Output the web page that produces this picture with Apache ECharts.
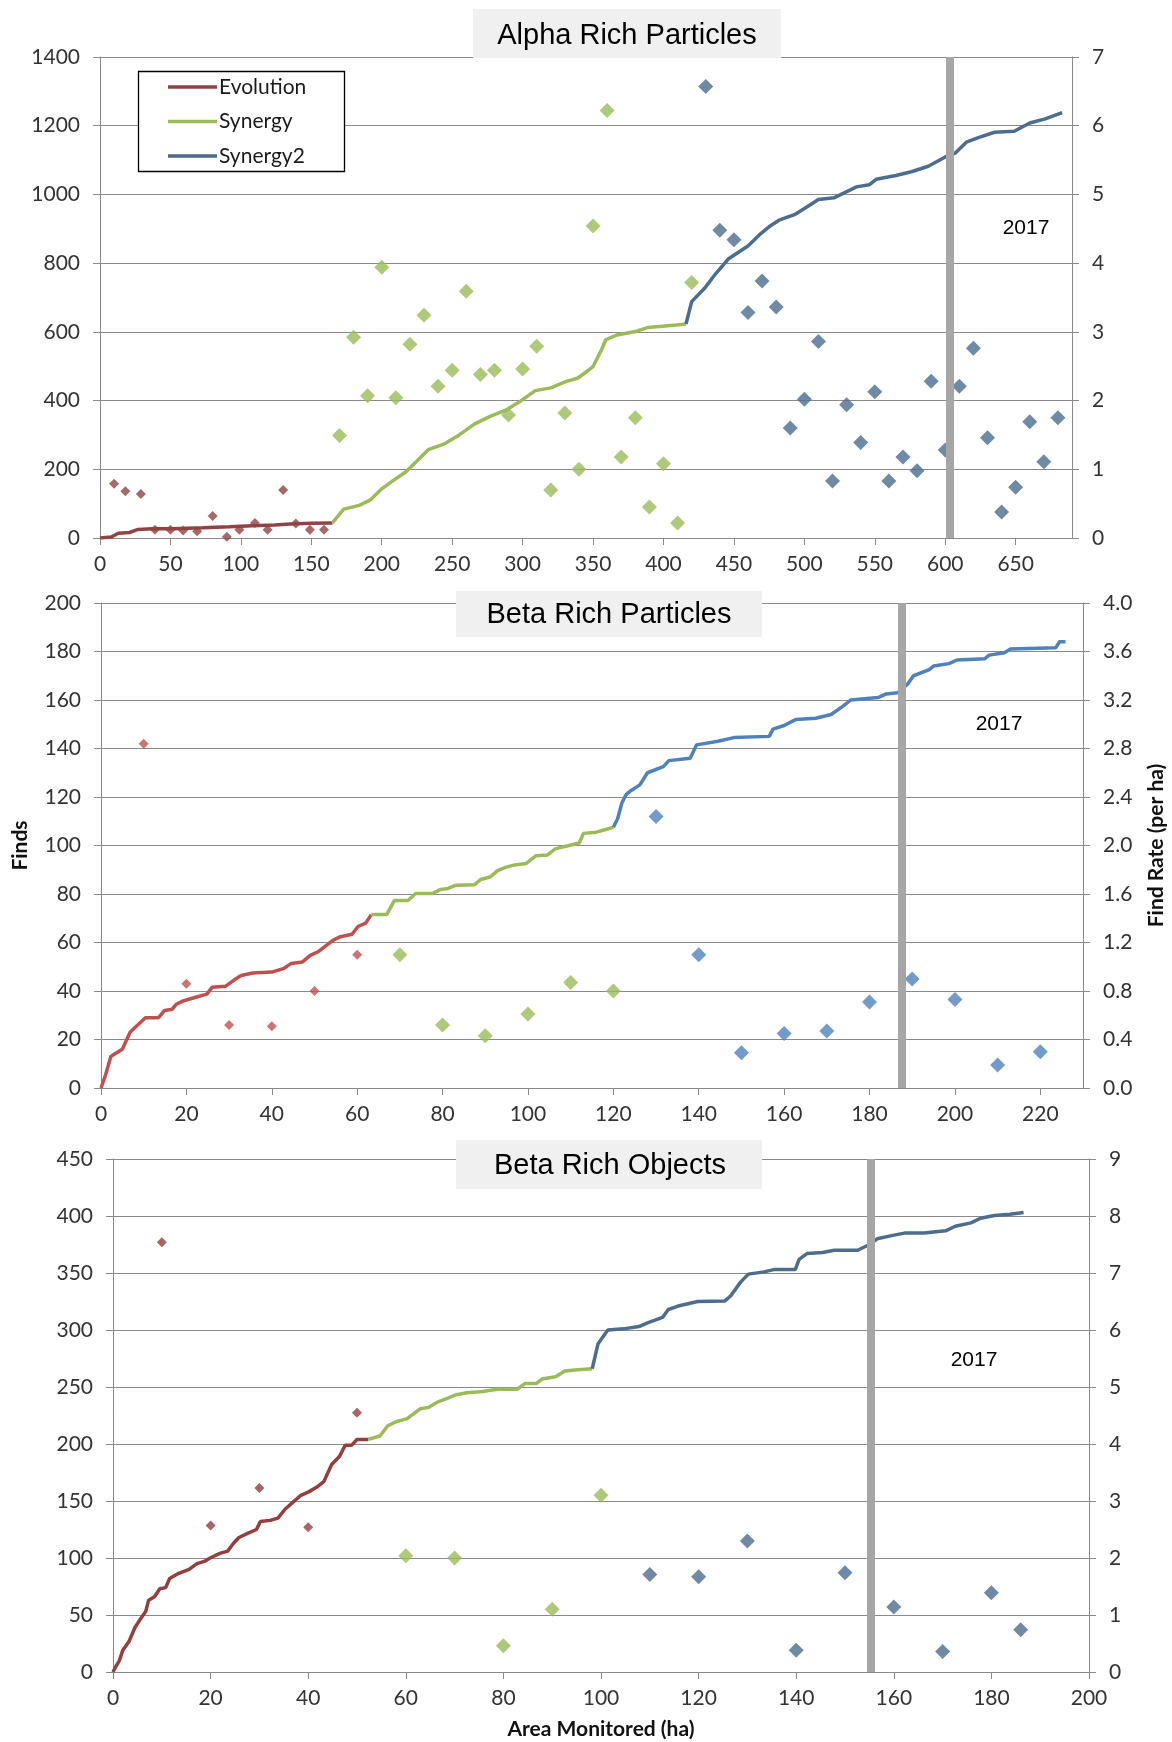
<!DOCTYPE html>
<html>
<head>
<meta charset="utf-8">
<title>Alpha / Beta Rich Finds</title>
<script src="https://cdn.jsdelivr.net/npm/echarts@6/dist/echarts.min.js"></script>
<style>
  html, body { margin: 0; padding: 0; background: #fff; }
  #main { width: 1172px; height: 1742px; }
</style>
</head>
<body>
<div id="main"></div>
<script>
// ---- Alpha Rich Particles (cumulative finds, [area, finds]) ----
var alphaEvolutionLine = [[0, 0], [8, 3], [13, 14], [21, 16], [27, 25], [37, 27], [51, 27], [73, 30], [92, 33], [108, 36], [124, 38], [135, 41], [150, 43], [165, 44]];
var alphaSynergyLine = [[165, 44], [173, 84], [184, 95], [192, 111], [200, 143], [209, 170], [217, 192], [225, 224], [233, 257], [244, 273], [255, 300], [266, 332], [277, 354], [288, 372], [298, 397], [309, 429], [320, 437], [331, 456], [339, 465], [347, 489], [350, 499], [356, 548], [359, 577], [367, 591], [381, 602], [389, 613], [409, 620], [416, 623]];
var alphaSynergy2Line = [[416, 623], [420, 688], [429, 726], [437, 769], [446, 812], [454, 834], [460, 850], [468, 882], [476, 909], [482, 925], [493, 941], [504, 969], [510, 985], [521, 990], [529, 1006], [537, 1022], [546, 1028], [551, 1044], [565, 1055], [576, 1066], [588, 1082], [600, 1109], [607, 1120], [615, 1152], [624, 1166], [635, 1181], [649, 1184], [660, 1208], [671, 1220], [683, 1238]];
// find rate per ha
var alphaEvolutionX = [10, 18, 29, 39, 50, 59, 69, 80, 90, 99, 110, 119, 130, 139, 149, 159];
var alphaEvolutionRate = [0.79, 0.68, 0.64, 0.12, 0.12, 0.11, 0.10, 0.32, 0.02, 0.12, 0.22, 0.12, 0.70, 0.21, 0.12, 0.12];
var alphaSynergyX = [170, 180, 190, 200, 210, 220, 230, 240, 250, 260, 270, 280, 290, 300, 310, 320, 330, 340, 350, 360, 370, 380, 390, 400, 410, 420];
var alphaSynergyRate = [1.49, 2.92, 2.07, 3.94, 2.04, 2.82, 3.24, 2.21, 2.44, 3.59, 2.38, 2.44, 1.79, 2.46, 2.79, 0.70, 1.82, 1.00, 4.54, 6.22, 1.18, 1.75, 0.45, 1.08, 0.22, 3.72];
var alphaSynergy2X = [430, 440, 450, 460, 470, 480, 490, 500, 510, 520, 530, 540, 550, 560, 570, 580, 590, 600, 610, 620, 630, 640, 650, 660, 670, 680];
var alphaSynergy2Rate = [6.57, 4.48, 4.34, 3.28, 3.74, 3.36, 1.60, 2.02, 2.86, 0.83, 1.94, 1.39, 2.13, 0.83, 1.18, 0.98, 2.28, 1.28, 2.21, 2.76, 1.46, 0.38, 0.74, 1.69, 1.11, 1.75];

// ---- Beta Rich Particles ----
var betaPartEvolutionLine = [[0, 0], [1, 5], [2.3, 13], [3.2, 14], [5, 16], [6.8, 23], [8.6, 26], [10.4, 29], [13.5, 29], [14.9, 32], [16.7, 32.5], [17.6, 34.5], [19.4, 36], [22, 37.3], [24.8, 38.7], [26, 41.5], [29.2, 42], [31, 44.3], [32.8, 46.4], [35.5, 47.4], [40, 47.8], [42.7, 49.2], [44.5, 51.3], [47.2, 52], [49, 54.7], [50.8, 56.1], [54.4, 61], [56.1, 62.4], [58.8, 63.4], [60.2, 66.6], [62, 68], [63.3, 71.5]];
var betaPartSynergyLine = [[63.3, 71.5], [66.9, 71.5], [68.7, 77.3], [71.9, 77.3], [73.7, 80.2], [77.7, 80.2], [79.5, 81.9], [81.3, 82.3], [83, 83.6], [87.5, 83.8], [88.9, 86], [91.1, 87], [92.9, 89.6], [94.7, 91], [96.9, 92], [99.6, 92.6], [101.9, 95.8], [104.6, 96.1], [106.4, 98.6], [109.6, 100], [112, 101], [113, 105], [116, 105.5], [118, 106.5], [120, 107.5]];
var betaPartSynergy2Line = [[120, 107.5], [121, 111], [122, 117.5], [123, 121], [124, 122.5], [126.2, 125], [128, 130], [131.7, 132.5], [133, 135], [138, 136], [139.5, 141.5], [144.5, 143], [148.2, 144.5], [156.5, 145], [157.4, 148], [160, 149.5], [162.8, 152], [167.4, 152.5], [171, 154], [173.8, 157.5], [175.6, 160], [182, 161], [183.9, 162.5], [186.6, 163], [188.9, 166.5], [190.3, 170], [194, 172.5], [195, 174], [198.6, 175], [200.5, 176.5], [207, 177], [208, 178.5], [211.6, 179.5], [213, 181], [223.6, 181.5], [224.5, 184], [225.9, 184]];
var betaPartEvolutionX = [10, 20, 30, 40, 50, 60];
var betaPartEvolutionRate = [2.84, 0.86, 0.52, 0.51, 0.80, 1.10];
var betaPartSynergyX = [70, 80, 90, 100, 110, 120];
var betaPartSynergyRate = [1.10, 0.52, 0.43, 0.61, 0.87, 0.80];
var betaPartSynergy2X = [130, 140, 150, 160, 170, 180, 190, 200, 210, 220];
var betaPartSynergy2Rate = [2.24, 1.10, 0.29, 0.45, 0.47, 0.71, 0.90, 0.73, 0.19, 0.30];

// ---- Beta Rich Objects ----
var betaObjEvolutionLine = [[0, 0], [0.6, 5], [1.3, 10], [2, 19], [3.3, 27], [4.5, 39], [5.7, 47], [6.7, 53], [7.3, 63], [8.5, 66], [9.6, 73], [10.8, 74], [11.6, 82], [13.2, 86], [15.6, 90], [17.2, 95], [18.7, 97], [19.9, 100], [21.9, 104], [23.5, 106], [24.7, 113], [25.8, 118], [27.8, 122], [29.4, 125], [30.2, 132], [32.2, 133], [33.8, 135], [35.3, 143], [36.9, 149], [38.5, 155], [40.1, 158], [41.7, 162], [43.2, 167], [44.8, 182], [46.4, 189], [47.6, 199], [48.9, 199], [50, 204], [52.3, 204]];
var betaObjSynergyLine = [[52.3, 204], [54.7, 207], [56.3, 216], [58.3, 220], [60.2, 222], [63, 231], [64.6, 232], [66.6, 237], [68.5, 240], [70.1, 243], [72.5, 245], [75.7, 246], [78.8, 248], [82.8, 248], [84.4, 253], [86.7, 253], [87.9, 257], [90.7, 259], [92.6, 264], [94.6, 265], [98.2, 266]];
var betaObjSynergy2Line = [[98.2, 266], [99.4, 288], [101.4, 300], [104.6, 301], [107.8, 303], [109.4, 306], [112.6, 311], [113.8, 318], [115.8, 321], [119.8, 325], [125.4, 325.5], [126.6, 330], [128.6, 342], [130.2, 349], [133.4, 351], [135.4, 353], [139.8, 353], [140.6, 362], [142.2, 367], [145.4, 368], [147.8, 370], [152.6, 370], [155, 375], [156.6, 380], [159.8, 383], [162.2, 385], [166.2, 385], [170.6, 387], [172.6, 391], [175.8, 394], [177.8, 398], [180.6, 400.5], [183.8, 401.5], [186.6, 403]];
var betaObjEvolutionX = [10, 20, 30, 40, 50];
var betaObjEvolutionRate = [7.54, 2.57, 3.23, 2.54, 4.55];
var betaObjSynergyX = [60, 70, 80, 90, 100];
var betaObjSynergyRate = [2.04, 2.00, 0.46, 1.10, 3.10];
var betaObjSynergy2X = [110, 120, 130, 140, 150, 160, 170, 180, 186];
var betaObjSynergy2Rate = [1.71, 1.67, 2.30, 0.38, 1.74, 1.14, 0.36, 1.39, 0.74];

// 2017 marker position per panel (area, ha)
var year2017At = [603, 187.6, 155.2];

var titles = ['Alpha Rich Particles', 'Beta Rich Particles', 'Beta Rich Objects'];
var legendNames = ['Evolution', 'Synergy', 'Synergy2'];

var gridColor = '#8a8a8a';
var labelColor = '#333';
var tickFont = 'Lato';

// colours per panel: evolution, synergy, synergy2
var panelColors = [
  ['#8e4444', '#9bbb59', '#4b6d8f'],
  ['#c0504d', '#9bbb59', '#4f81bd'],
  ['#943e3e', '#9bbb59', '#4e6d8d']
];

function zip(xs, ys) {
  var out = [];
  for (var i = 0; i < xs.length; i++) {
    out.push([xs[i], ys[i]]);
  }
  return out;
}

var plain = function (v) { return String(v); };
var fixed1 = function (v) { return v.toFixed(1); };

function xAxisFor(idx, max, interval, showMax, name) {
  var ax = {
    type: 'value',
    gridIndex: idx,
    min: 0,
    max: max,
    interval: interval,
    axisLine: { show: true, onZero: false, lineStyle: { color: gridColor, width: 1 } },
    axisTick: { show: true, length: 7, lineStyle: { color: gridColor } },
    axisLabel: {
      fontFamily: tickFont, fontSize: 21, color: labelColor, margin: 16,
      showMaxLabel: showMax, formatter: plain
    },
    splitLine: { show: false }
  };
  if (name) {
    ax.name = name;
    ax.nameLocation = 'middle';
    ax.nameGap = 47;
    ax.nameTextStyle = { fontFamily: tickFont, fontWeight: 'bold', fontSize: 21, color: '#111' };
  }
  return ax;
}

function yAxisFor(idx, pos, max, interval, fmt, name, nameGap) {
  var ax = {
    type: 'value',
    gridIndex: idx,
    position: pos,
    min: 0,
    max: max,
    interval: interval,
    axisLine: { show: true, lineStyle: { color: gridColor, width: 1 } },
    axisTick: { show: true, length: 7, lineStyle: { color: gridColor } },
    axisLabel: { fontFamily: tickFont, fontSize: 21, color: labelColor, margin: 20, formatter: fmt || plain },
    splitLine: { show: pos === 'left', lineStyle: { color: gridColor, width: 1 } }
  };
  if (name) {
    ax.name = name;
    ax.nameLocation = 'middle';
    ax.nameRotate = 90;
    ax.nameGap = nameGap;
    ax.nameTextStyle = { fontFamily: tickFont, fontWeight: 'bold', fontSize: 21, color: '#111' };
  }
  return ax;
}

function lineSeries(name, idx, data, color, mark) {
  var s = {
    name: name,
    type: 'line',
    xAxisIndex: idx,
    yAxisIndex: idx * 2,
    symbol: 'none',
    data: data,
    lineStyle: { color: color, width: 3.5 },
    itemStyle: { color: color },
    z: 3
  };
  if (mark !== undefined) {
    s.markLine = {
      silent: true,
      symbol: ['none', 'none'],
      label: { show: false },
      lineStyle: { color: '#a6a6a6', width: 8, type: 'solid' },
      emphasis: { disabled: true },
      data: [{ xAxis: mark }]
    };
  }
  return s;
}

function scatterSeries(name, idx, data, color, size) {
  return {
    name: name,
    type: 'scatter',
    xAxisIndex: idx,
    yAxisIndex: idx * 2 + 1,
    symbol: 'diamond',
    symbolSize: size,
    data: data,
    itemStyle: { color: color },
    z: 4
  };
}

var series = [];
var panels = [
  {
    lines: [alphaEvolutionLine, alphaSynergyLine, alphaSynergy2Line],
    xs: [alphaEvolutionX, alphaSynergyX, alphaSynergy2X],
    rates: [alphaEvolutionRate, alphaSynergyRate, alphaSynergy2Rate]
  },
  {
    lines: [betaPartEvolutionLine, betaPartSynergyLine, betaPartSynergy2Line],
    xs: [betaPartEvolutionX, betaPartSynergyX, betaPartSynergy2X],
    rates: [betaPartEvolutionRate, betaPartSynergyRate, betaPartSynergy2Rate]
  },
  {
    lines: [betaObjEvolutionLine, betaObjSynergyLine, betaObjSynergy2Line],
    xs: [betaObjEvolutionX, betaObjSynergyX, betaObjSynergy2X],
    rates: [betaObjEvolutionRate, betaObjSynergyRate, betaObjSynergy2Rate]
  }
];

panels.forEach(function (p, idx) {
  var c = panelColors[idx];
  for (var k = 0; k < 3; k++) {
    series.push(lineSeries(legendNames[k], idx, p.lines[k], c[k], k === 2 ? year2017At[idx] : undefined));
  }
  for (var k2 = 0; k2 < 3; k2++) {
    series.push(scatterSeries(legendNames[k2] + ' rate', idx, zip(p.xs[k2], p.rates[k2]), c[k2], k2 === 0 ? 10 : 15));
  }
});

var titleText = function (txt, cx, cy) {
  return {
    type: 'text', x: cx, y: cy, z: 51,
    style: { text: txt, fontFamily: 'Liberation Sans', fontSize: 29, fill: '#000', align: 'center', verticalAlign: 'middle' }
  };
};
var yearText = function (cx, cy) {
  return {
    type: 'text', x: cx, y: cy, z: 51,
    style: { text: '2017', fontFamily: 'Liberation Sans', fontSize: 21, fill: '#000', align: 'center', verticalAlign: 'middle' }
  };
};

var option = {
  animation: false,
  backgroundColor: '#fff',
  grid: [
    { left: 100, top: 57, width: 972, height: 481, outerBoundsMode: 'none' },
    { left: 101, top: 603, width: 982, height: 485, outerBoundsMode: 'none' },
    { left: 113, top: 1159, width: 976, height: 513, outerBoundsMode: 'none' }
  ],
  xAxis: [
    xAxisFor(0, 690, 50, false),
    xAxisFor(1, 230, 20, false),
    xAxisFor(2, 200, 20, true, 'Area Monitored (ha)')
  ],
  yAxis: [
    yAxisFor(0, 'left', 1400, 200),
    yAxisFor(0, 'right', 7, 1),
    yAxisFor(1, 'left', 200, 20, null, 'Finds', 70),
    yAxisFor(1, 'right', 4, 0.4, fixed1, 'Find Rate (per ha)', 63),
    yAxisFor(2, 'left', 450, 50),
    yAxisFor(2, 'right', 9, 1)
  ],
  legend: {
    data: legendNames.map(function (n) { return { name: n, icon: 'rect' }; }),
    orient: 'vertical',
    left: 168,
    top: 76,
    padding: 0,
    itemWidth: 49,
    itemHeight: 3.5,
    itemGap: 12.5,
    z: 10,
    selectedMode: false,
    textStyle: { fontFamily: tickFont, fontSize: 21, color: '#1a1a1a', lineHeight: 22, padding: [0, 0, 0, -3] }
  },
  graphic: [
    { type: 'rect', z: 3, shape: { x: 138.5, y: 71.5, width: 206, height: 100 }, style: { fill: '#fff', stroke: '#000', lineWidth: 1.3 } },
    { type: 'rect', z: 50, shape: { x: 473, y: 9, width: 308, height: 49 }, style: { fill: '#f0f0f0' } },
    { type: 'rect', z: 50, shape: { x: 456, y: 591, width: 306, height: 46 }, style: { fill: '#f0f0f0' } },
    { type: 'rect', z: 50, shape: { x: 456, y: 1140, width: 306, height: 49 }, style: { fill: '#f0f0f0' } },
    titleText(titles[0], 627, 36),
    titleText(titles[1], 609, 615),
    titleText(titles[2], 610, 1166),
    yearText(1026, 228),
    yearText(999, 724),
    yearText(974, 1360)
  ],
  series: series
};

var chart = echarts.init(document.getElementById('main'));
chart.setOption(option);
</script>
</body>
</html>
